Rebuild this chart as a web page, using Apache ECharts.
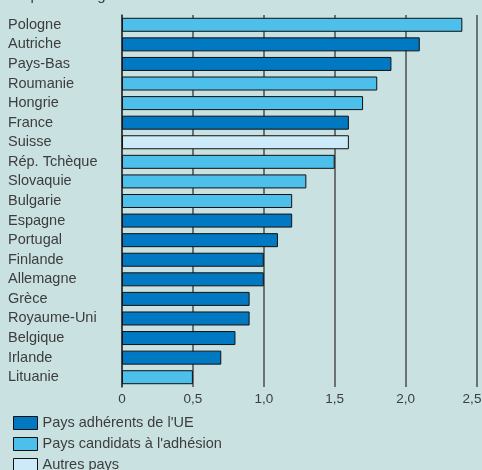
<!DOCTYPE html>
<html>
<head>
<meta charset="utf-8">
<script src="https://cdn.jsdelivr.net/npm/echarts@6/dist/echarts.min.js"></script>
<style>
  html, body { margin: 0; padding: 0; background: #c9e1e1; overflow: hidden; }
  #chart { width: 482px; height: 470px; }
</style>
</head>
<body>
<div id="chart"></div>
<script>
// Countries, top to bottom
const countries = ['Pologne', 'Autriche', 'Pays-Bas', 'Roumanie', 'Hongrie', 'France', 'Suisse',
  'Rép. Tchèque', 'Slovaquie', 'Bulgarie', 'Espagne', 'Portugal', 'Finlande', 'Allemagne',
  'Grèce', 'Royaume-Uni', 'Belgique', 'Irlande', 'Lituanie'];
// Value per country (en pourcentage)
const values = [2.4, 2.1, 1.9, 1.8, 1.7, 1.6, 1.6, 1.5, 1.3, 1.2, 1.2, 1.1, 1.0, 1.0, 0.9, 0.9, 0.8, 0.7, 0.5];
// Group index per country: 0 = UE, 1 = candidats, 2 = autres
const groupOf = [1, 0, 0, 1, 1, 0, 2, 1, 1, 1, 0, 0, 0, 0, 0, 0, 0, 0, 1];
// Group names and colours
const groupNames = ["Pays adhérents de l'UE", "Pays candidats à l'adhésion", 'Autres pays'];
const groupColors = ['#0079c2', '#4cbfeb', '#cdeaf8'];
// X axis ticks
const xMin = 0, xMax = 2.5, xStep = 0.5;

const FONT = 'Liberation Sans';
const TEXT = '#3d3d3d';
const LINE = '#4d4d4d';

const series = groupNames.map((name, g) => ({
  name,
  type: 'bar',
  stack: 'all',
  barWidth: 14,
  itemStyle: { color: groupColors[g], borderColor: '#111', borderWidth: 1 },
  data: values.map((v, i) => (groupOf[i] === g ? v : '-'))
}));

const fmtTick = v => (v === 0 ? '0' : v.toFixed(1).replace('.', ','));

const chart = echarts.init(document.getElementById('chart'), null, { renderer: 'canvas', width: 482, height: 470 });
chart.setOption({
  backgroundColor: '#c9e1e1',
  animation: false,
  textStyle: { fontFamily: FONT },
  graphic: [{
    type: 'text', left: 8, top: -12,
    style: { text: 'En pourcentage', font: '15px ' + FONT, fill: TEXT }
  }],
  grid: { left: 122, right: 5.5, top: 15, bottom: 83, containLabel: false, outerBoundsMode: 'none' },
  xAxis: {
    type: 'value', min: xMin, max: xMax, interval: xStep,
    axisLine: { show: false }, axisTick: { show: false },
    splitLine: { show: true, lineStyle: { color: LINE, width: 1.5 } },
    axisLabel: {
      color: TEXT, fontSize: 13.5, fontFamily: FONT, margin: 5,
      // keep the last tick label inside the page edge
      formatter: v => (v >= xMax ? '{last|' + fmtTick(v) + '}' : fmtTick(v)),
      rich: { last: { color: TEXT, fontSize: 13.5, fontFamily: FONT, padding: [0, 9, 0, 0] } }
    }
  },
  yAxis: {
    type: 'category', data: countries, inverse: true,
    axisLine: { show: true, lineStyle: { color: '#333', width: 1.5 } },
    axisTick: { show: false },
    axisLabel: { color: TEXT, fontSize: 14.5, fontFamily: FONT, align: 'left', margin: 114 }
  },
  legend: {
    orient: 'vertical', left: 8, top: 410, height: 120,
    itemWidth: 24, itemHeight: 13, itemGap: 5,
    icon: 'rect',
    textStyle: { color: TEXT, fontSize: 14.5, fontFamily: FONT, lineHeight: 16 },
    data: groupNames.map((n, g) => ({ name: n, itemStyle: { color: groupColors[g], borderColor: '#111', borderWidth: 1 } }))
  },
  series
});
</script>
</body>
</html>
